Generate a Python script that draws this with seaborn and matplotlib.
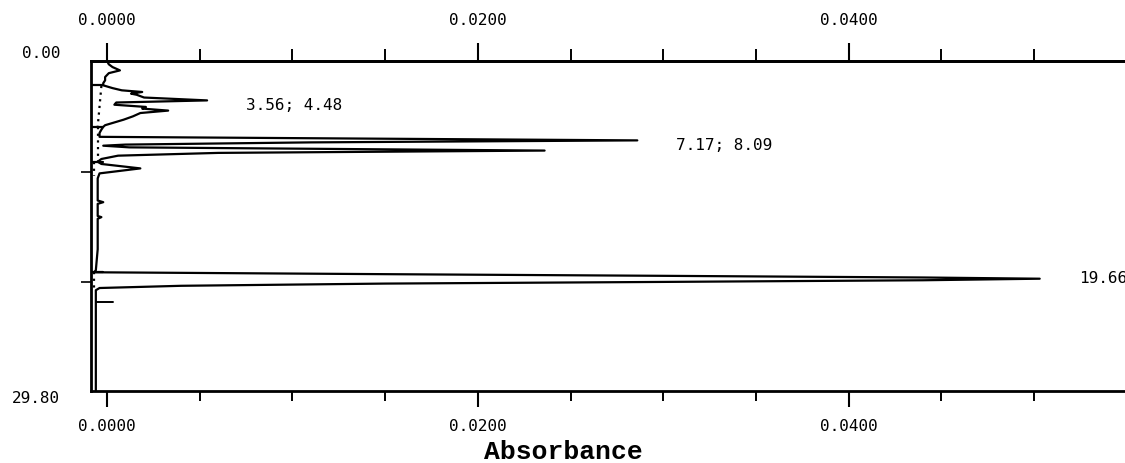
import numpy as np
import pandas as pd
import seaborn as sns
import matplotlib.pyplot as plt
from matplotlib.ticker import FixedLocator, FormatStrFormatter

# chromatogram trace: retention time (min) and absorbance
trace_time = [0.00, 0.30, 0.55, 0.85, 1.10, 1.45, 1.75, 2.00, 2.20, 2.45,
              2.65, 2.80, 2.95, 3.05, 3.30, 3.56, 3.75, 3.95, 4.15, 4.30,
              4.48, 4.70, 5.00, 5.30, 5.60, 5.80, 5.95, 6.20, 6.50, 6.85,
              7.17, 7.35, 7.55, 7.65, 7.80, 8.09, 8.30, 8.55, 8.85, 9.10,
              9.30, 9.70, 10.15, 10.60, 11.50, 12.60, 12.75, 12.90, 14.00, 14.10,
              14.25, 15.50, 17.00, 18.90, 19.08, 19.25, 19.40, 19.55, 19.66, 19.80,
              19.95, 20.10, 20.30, 20.50, 20.70, 23.00, 26.00, 29.80]
trace_abs = [0.0000, 0.0001, 0.0003, 0.0007, 0.0001, -0.0001, -0.0001, -0.0002, -0.0002, 0.0003,
             0.0008, 0.0019, 0.0013, 0.0016, 0.0020, 0.0054, 0.0005, 0.0004, 0.0021, 0.0019,
             0.0033, 0.0018, 0.0014, 0.0009, 0.0003, -0.0001, -0.0002, -0.0003, -0.0004, -0.0004,
             0.0286, 0.0110, 0.0010, -0.0002, 0.0012, 0.0236, 0.0060, 0.0006, -0.0003, -0.0005,
             -0.0003, 0.0018, -0.0004, -0.0005, -0.0005, -0.0005, -0.0002, -0.0005, -0.0005, -0.0003,
             -0.0005, -0.0005, -0.0005, -0.0006, -0.0007, 0.0150, 0.0300, 0.0440, 0.0503, 0.0440,
             0.0300, 0.0150, 0.0040, -0.0004, -0.0006, -0.0006, -0.0006, -0.0006]

# peak start/end markers (min) and short trailing mark after the big peak
marker_time = [2.20, 5.95, 9.10, 19.05]
tail_mark_time = 21.80
tail_mark_abs = [-0.0006, 0.0003]

# dotted integration baselines
base_start = [2.25, 5.95, 9.10, 19.05]
base_end = [5.95, 9.10, 10.40, 20.60]
base_abs_start = [-0.0003, -0.0005, -0.0007, -0.0007]
base_abs_end = [-0.0005, -0.0005, -0.0007, -0.0007]

# labelled peaks (retention times) and the tallest absorbance in each group
peak_groups = [[3.56, 4.48], [7.17, 8.09], [19.66]]
peak_height = [0.0054, 0.0286, 0.0503]

# axis ticks
abs_major = [0.0, 0.02, 0.04]
abs_minor = [0.005, 0.01, 0.015, 0.025, 0.03, 0.035, 0.045, 0.05]
time_minor = [10, 20]
run_end = 29.80
axis_min = -0.00086
axis_max = 0.0549

sns.set_theme(style="ticks", rc={"text.color": "black", "axes.labelcolor": "black",
                                 "xtick.color": "black", "ytick.color": "black",
                                 "axes.edgecolor": "black"})
plt.rcParams['font.family'] = ['DejaVu Sans Mono', 'DejaVu Sans']

fig = plt.figure(figsize=(11.25, 4.63), dpi=100)
ax = fig.add_axes([0.0809, 0.1555, 0.9191, 0.7128])

df = pd.DataFrame({"time": trace_time, "absorbance": trace_abs})
sns.lineplot(data=df, x="absorbance", y="time", sort=False, estimator=None,
             color="black", linewidth=1.6, ax=ax)

for t in marker_time:
    ax.plot([axis_min, -0.0002], [t, t], color="black", linewidth=1.6)
ax.plot(tail_mark_abs, [tail_mark_time, tail_mark_time], color="black", linewidth=1.4)

for t0, t1, a0, a1 in zip(base_start, base_end, base_abs_start, base_abs_end):
    ax.plot([a0, a1], [t0, t1], color="black", linewidth=1.6, linestyle=(0, (1, 2)))

for times, h in zip(peak_groups, peak_height):
    label = "; ".join(f"{t:.2f}" for t in times)
    ax.text(h + 0.0021, np.mean(times), label, fontsize=11.5, va="center", ha="left")

ax.set_xlim(axis_min, axis_max)
ax.set_ylim(run_end, 0)
ax.set_ylabel("")

ax.xaxis.set_major_locator(FixedLocator(abs_major))
ax.xaxis.set_minor_locator(FixedLocator(abs_minor))
ax.xaxis.set_major_formatter(FormatStrFormatter("%.4f"))
ax.tick_params(axis="x", which="major", length=11.5, width=1.5, pad=9, labelsize=11.5)
ax.tick_params(axis="x", which="minor", length=7, width=1.4)

secax = ax.secondary_xaxis("top")
secax.xaxis.set_major_locator(FixedLocator(abs_major))
secax.xaxis.set_minor_locator(FixedLocator(abs_minor))
secax.xaxis.set_major_formatter(FormatStrFormatter("%.4f"))
secax.tick_params(axis="x", which="major", length=13, width=1.5, pad=11, labelsize=11.5)
secax.tick_params(axis="x", which="minor", length=8.5, width=1.4)
secax.spines["top"].set_linewidth(2)

ax.set_yticks([0, run_end])
ax.set_yticklabels(["0.00", f"{run_end:.2f}"])
ax.set_yticks(time_minor, minor=True)
ax.tick_params(axis="y", which="major", length=0, pad=22, labelsize=11.5)
ax.tick_params(axis="y", which="minor", length=7.5, width=1.2)
ylabels = ax.get_yticklabels()
ylabels[0].set_va("bottom")
ylabels[1].set_va("top")

for side in ["left", "bottom", "top"]:
    ax.spines[side].set_linewidth(2)
ax.spines["right"].set_visible(False)

ax.set_xlabel("Absorbance", fontfamily="Liberation Mono", fontweight="bold", fontsize=19)
ax.xaxis.set_label_coords(0.4565, -0.148)

fig.savefig("out.png", dpi=100, facecolor="white")
